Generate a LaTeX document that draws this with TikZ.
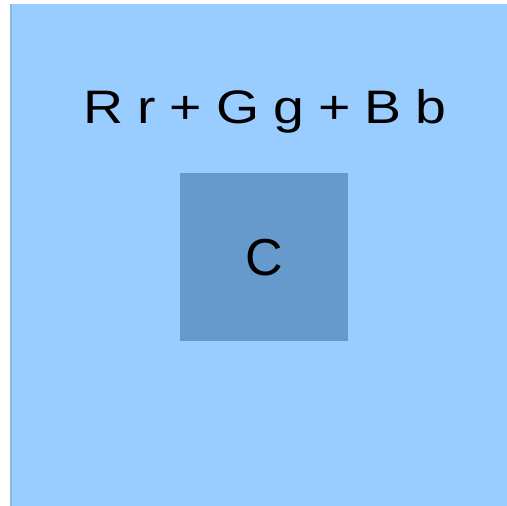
\documentclass[tikz,border=0pt]{standalone}
\usepackage{fontspec}
\setmainfont{Liberation Sans}
\definecolor{bgblue}{HTML}{99CCFF}
\definecolor{edgeblue}{HTML}{8CB8E2}
\definecolor{boxblue}{HTML}{6699CC}
\newcommand\myformulafont{\fontsize{47}{56}\selectfont\spaceskip 11.9pt\relax}
\tikzset{
  panel/.style={fill=bgblue, draw=none},
  cbox/.style={fill=boxblue, draw=none, minimum width=168pt, minimum height=168pt, inner sep=0pt,
    font=\fontsize{52}{62}\selectfont},
  formula/.style={inner sep=0pt, anchor=base, font=\myformulafont, transform shape}
}
\begin{document}
\begin{tikzpicture}[x=1pt,y=1pt]
\useasboundingbox (0,0) rectangle (507,506);
\fill[white] (0,0) rectangle (507,506);
\fill[panel] (10.5,0) rectangle (507,502);
\draw[edgeblue, line width=1.2pt] (11,0) -- (11,502);
\begin{scope}[shift={(265,382)}, xscale=1.18]
\node[formula] (f) at (0,0) {R r + G g + B b};
\end{scope}
\node[cbox] (c) at (264,248.5) {C};
\end{tikzpicture}
\end{document}
